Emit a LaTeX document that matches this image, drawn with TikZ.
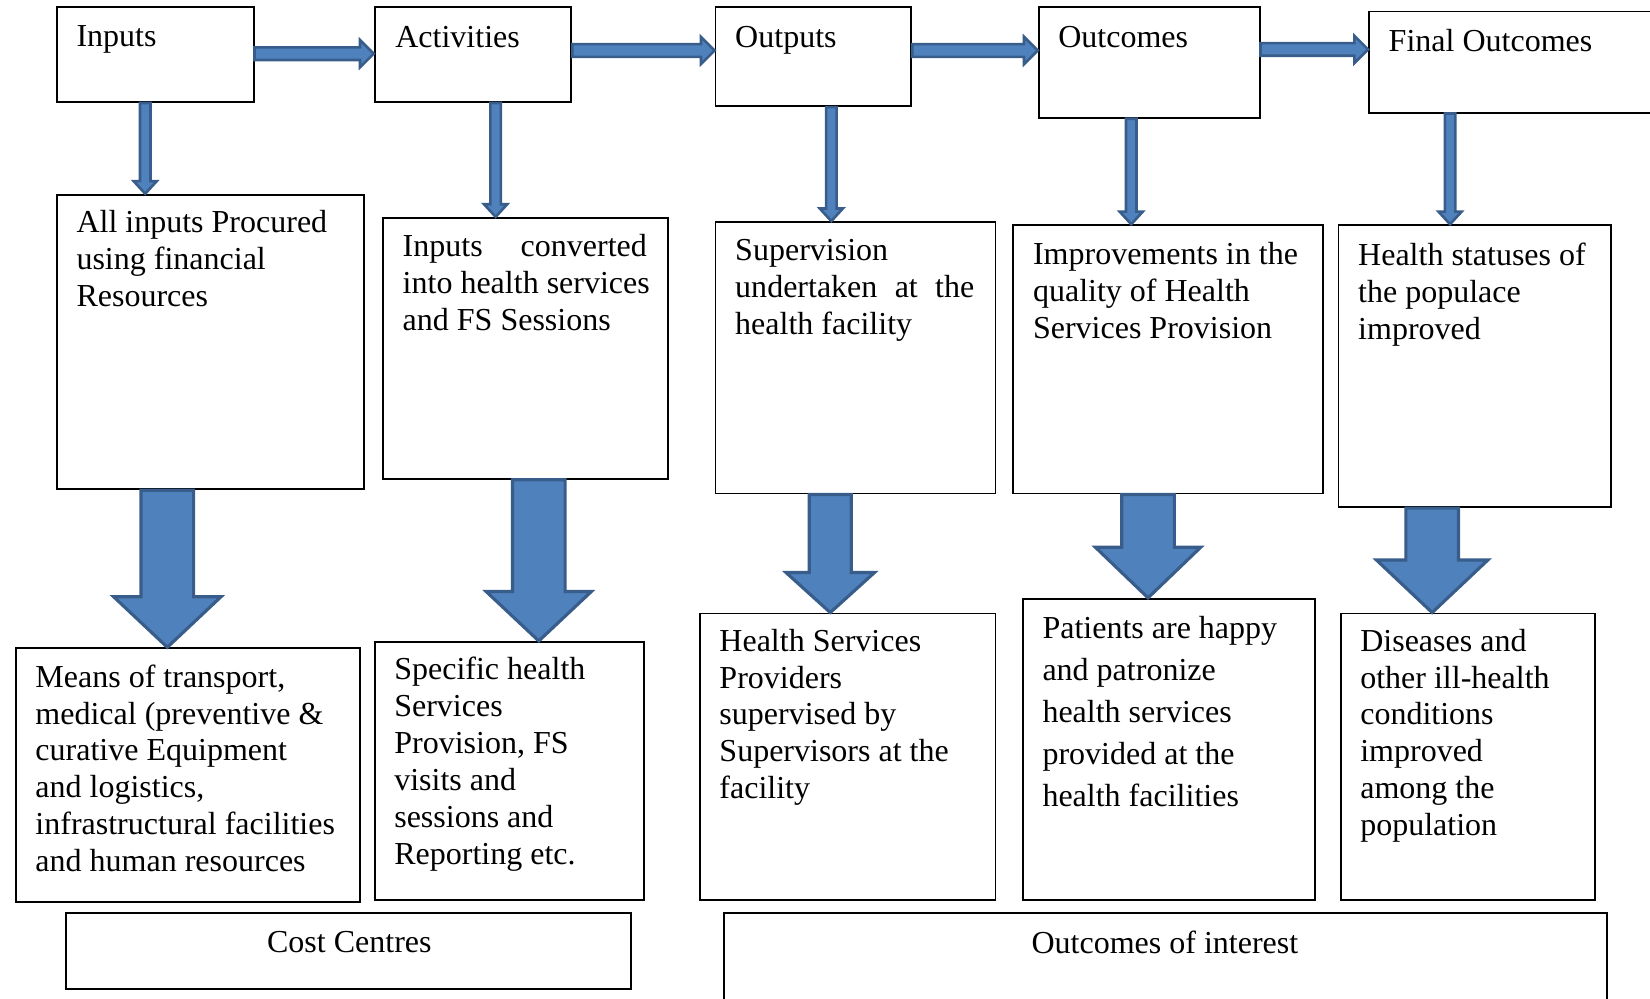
\documentclass[tikz,border=0pt]{standalone}
\usepackage{fontspec}
\setmainfont{Liberation Serif}
\usetikzlibrary{calc,fit}

\definecolor{arrfill}{HTML}{4F81BD}
\definecolor{arrline}{HTML}{385D8A}

\newcommand{\fs}{\fontsize{8.65pt}{9.96pt}\selectfont}

% block arrow going down: style, x, from node, to node, shaft half, head half, head length
\newcommand{\vblock}[7]{%
  \path[#1] let \p1=(#2,0), \p2=(#3.south), \p3=(#4.north) in
    ($(\x1,\y2)+(-#5,0)$) -- ($(\x1,\y3)+(-#5,#7)$) -- ($(\x1,\y3)+(-#6,#7)$)
    -- (\x1,\y3) -- ($(\x1,\y3)+(#6,#7)$) -- ($(\x1,\y3)+(#5,#7)$)
    -- ($(\x1,\y2)+(#5,0)$) -- cycle;}

% block arrow going right: style, y, from node, to node, shaft half, head half, head length
\newcommand{\hblock}[7]{%
  \path[#1] let \p1=(0,#2), \p2=(#3.east), \p3=(#4.west) in
    ($(\x2,\y1)+(0,#5)$) -- ($(\x3,\y1)+(-#7,#5)$) -- ($(\x3,\y1)+(-#7,#6)$)
    -- (\x3,\y1) -- ($(\x3,\y1)+(-#7,-#6)$) -- ($(\x3,\y1)+(-#7,-#5)$)
    -- ($(\x2,\y1)+(0,-#5)$) -- cycle;}

\begin{document}
\begin{tikzpicture}[
    x=0.01cm, y=0.01cm,
    box/.style={draw, line width=0.5pt, inner sep=0pt},
    txt/.style={inner sep=0pt, align=left, anchor=north west, font=\fs},
    mid/.style={inner sep=0pt, anchor=north, font=\fs},
    bigarr/.style={fill=arrfill, draw=arrline, line width=0.85pt},
    smallarr/.style={fill=arrfill, draw=arrline, line width=0.7pt}
]
\useasboundingbox (0,0) rectangle (1568,-949);
\clip (0,0) rectangle (1568,-949);

% Top row
\node[box, fit={(54,-7) (241,-97)}] (inputs) {};
\node[txt] (inputs_t) at (72,-24) {Inputs};
\node[box, fit={(356,-7) (543,-97)}] (activities) {};
\node[txt] (activities_t) at (375,-24) {Activities};
\node[box, fit={(680,-7) (866,-101)}] (outputs) {};
\node[txt] (outputs_t) at (698,-24) {Outputs};
\node[box, fit={(987,-7) (1197,-112)}] (outcomes) {};
\node[txt] (outcomes_t) at (1005,-24) {Outcomes};
\node[box, fit={(1301,-11) (1600,-107)}] (final) {};
\node[txt] (final_t) at (1319,-27) {Final Outcomes};

% Middle row
\node[box, fit={(54,-185) (346,-465)}] (procured) {};
\node[txt] (procured_t) at (72,-199) {All inputs Procured\\using financial\\Resources};
\node[box, fit={(364,-207) (635,-455)}] (converted) {};
\node[txt] (converted_t) at (382,-222) {\makebox[66pt][s]{Inputs converted}\\into health services\\and FS Sessions};
\node[box, fit={(680,-211) (946,-469)}] (supervision) {};
\node[txt] (supervision_t) at (698,-227) {Supervision\\\makebox[64.6pt][s]{undertaken at the}\\health facility};
\node[box, fit={(963,-214) (1257,-469)}] (quality) {};
\node[txt] (quality_t) at (981,-230) {Improvements in the\\quality of Health\\Services Provision};
\node[box, fit={(1272,-214) (1531,-482)}] (statuses) {};
\node[txt] (statuses_t) at (1290,-230) {Health statuses of\\the populace\\improved};

% Bottom row
\node[box, fit={(15,-616) (342,-857)}] (means) {};
\node[txt] (means_t) at (33,-631) {Means of transport,\\medical (preventive \&\\curative Equipment\\and logistics,\\infrastructural facilities\\and human resources};
\node[box, fit={(356,-610) (612,-855)}] (specific) {};
\node[txt] (specific_t) at (374,-624) {Specific health\\Services\\Provision, FS\\visits and\\sessions and\\Reporting etc.};
\node[box, fit={(665,-583) (946,-855)}] (providers) {};
\node[txt] (providers_t) at (683,-597) {Health Services\\Providers\\supervised by\\Supervisors at the\\facility};
\node[box, fit={(972,-569) (1250,-855)}] (patients) {};
\node[txt, font=\fontsize{8.65pt}{11.38pt}\selectfont] (patients_t) at (990,-585) {Patients are happy\\and patronize\\health services\\provided at the\\health facilities};
\node[box, fit={(1274,-583) (1516,-855)}] (diseases) {};
\node[txt] (diseases_t) at (1292,-597) {Diseases and\\other ill-health\\conditions\\improved\\among the\\population};

% Labels
\node[box, fit={(63,-868) (600,-940)}] (costs) {};
\node[mid] (costs_t) at (332,-884) {Cost Centres};
\node[box, fit={(688,-868) (1527,-980)}] (interest) {};
\node[mid] (interest_t) at (1107,-884) {Outcomes of interest};

% Arrows along the top
\hblock{smallarr}{-51}{inputs}{activities}{6}{13}{13}
\hblock{smallarr}{-48}{activities}{outputs}{6}{13}{13}
\hblock{smallarr}{-48}{outputs}{outcomes}{6}{13}{13}
\hblock{smallarr}{-47}{outcomes}{final}{6}{13}{13}

% Arrows down to the middle row
\vblock{smallarr}{138}{inputs}{procured}{5}{11}{12}
\vblock{smallarr}{471}{activities}{converted}{5}{11}{12}
\vblock{smallarr}{790}{outputs}{supervision}{5}{11}{12}
\vblock{smallarr}{1075}{outcomes}{quality}{5}{11}{12}
\vblock{smallarr}{1378}{final}{statuses}{5}{11}{12}

% Big arrows down to the bottom row
\vblock{bigarr}{159}{procured}{means}{25}{51}{48}
\vblock{bigarr}{512}{converted}{specific}{25}{50}{47}
\vblock{bigarr}{789}{supervision}{providers}{20}{42}{38}
\vblock{bigarr}{1091}{quality}{patients}{25}{50}{48}
\vblock{bigarr}{1361}{statuses}{diseases}{25}{53}{50}

\end{tikzpicture}
\end{document}
